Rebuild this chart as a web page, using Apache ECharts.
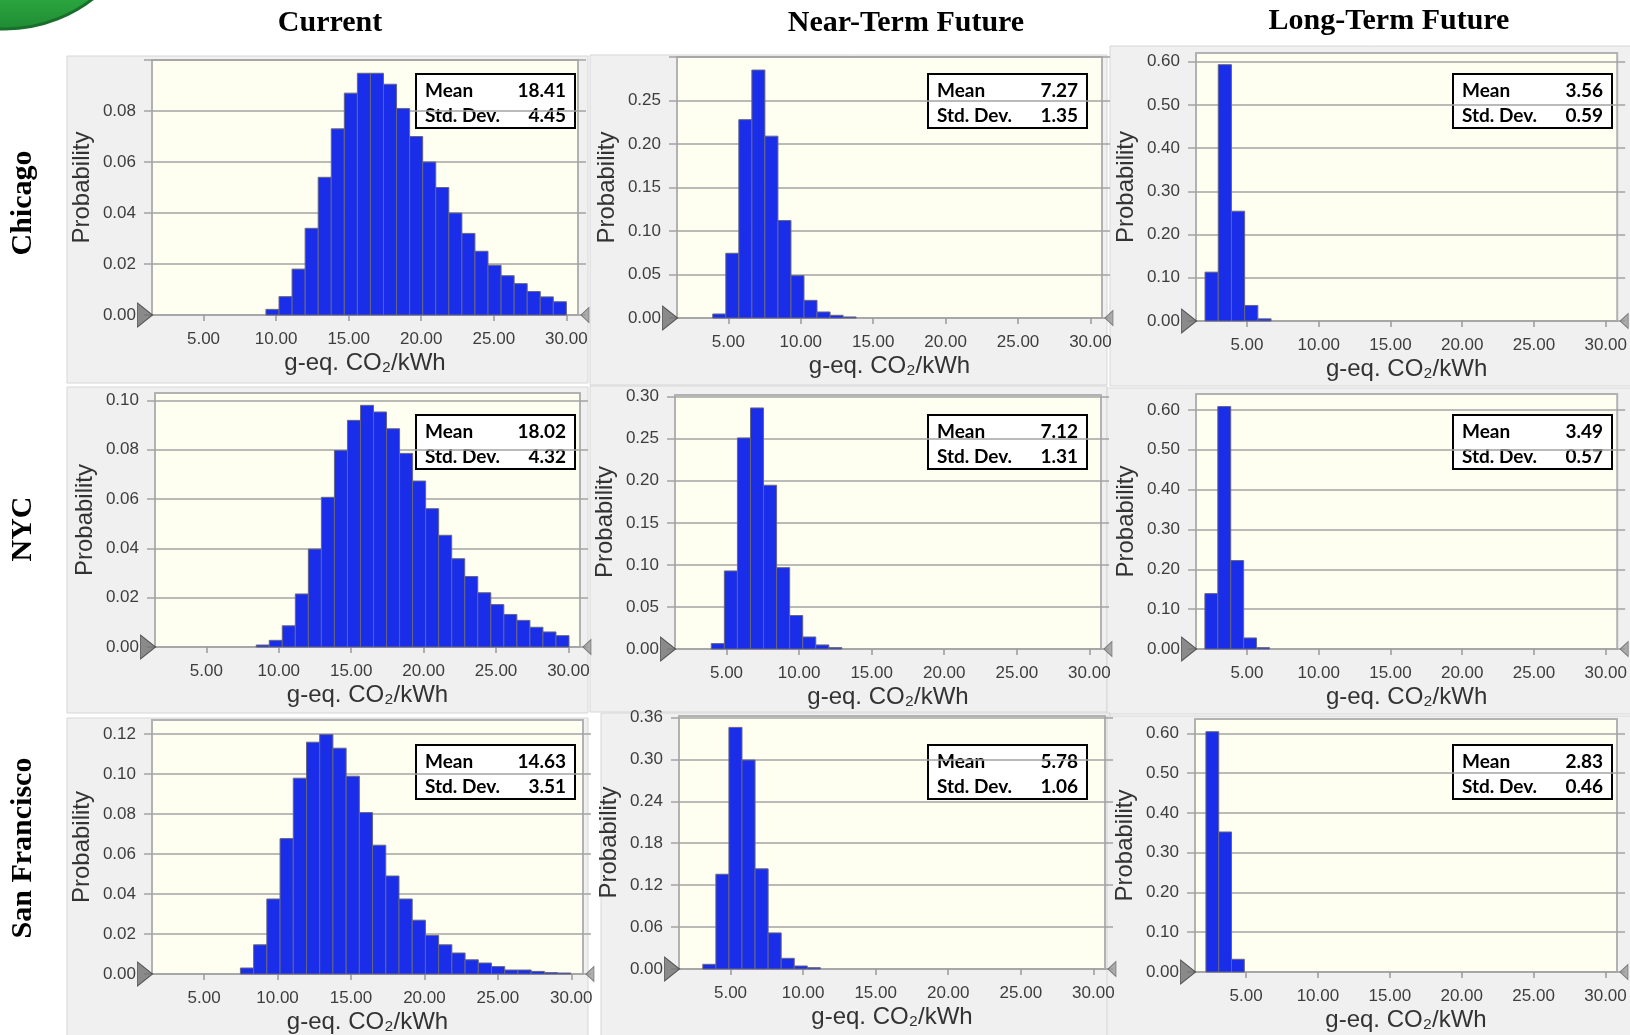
<!DOCTYPE html>
<html>
<head>
<meta charset="utf-8">
<script src="https://cdn.jsdelivr.net/npm/echarts@6/dist/echarts.min.js"></script>
<style>
  html, body { margin: 0; background: #fff; }
  #chart { width: 1630px; height: 1035px; }
</style>
</head>
<body>
<div id="chart"></div>
<script>
// rows / columns
const cities = ['Chicago', 'NYC', 'San Francisco']
const scenarios = ['Current', 'Near-Term Future', 'Long-Term Future']

// x axis (g-eq. CO2/kWh)
const xTicks = [5, 10, 15, 20, 25, 30]
const xMin = 1.45
const xMax = 30.8

// histogram probabilities, one array per panel
const chicagoCurrent = [0.0022, 0.0072, 0.018, 0.034, 0.054, 0.073, 0.087, 0.0948, 0.0948, 0.0905, 0.081, 0.070,
  0.060, 0.050, 0.040, 0.032, 0.025, 0.0195, 0.0154, 0.0123, 0.0092, 0.0071, 0.0052]
const chicagoNear = [0.0046, 0.0744, 0.228, 0.285, 0.209, 0.112, 0.0487, 0.0203, 0.0069, 0.0031, 0.0012]
const chicagoLong = [0.113, 0.593, 0.254, 0.036, 0.005]
const nycCurrent = [0.0008, 0.0027, 0.0086, 0.0215, 0.0397, 0.0607, 0.0797, 0.0919, 0.098, 0.0953, 0.0885, 0.0785,
  0.0673, 0.0561, 0.0453, 0.0358, 0.0286, 0.022, 0.0172, 0.0132, 0.0108, 0.008, 0.0061, 0.0046]
const nycNear = [0.0064, 0.0928, 0.251, 0.2866, 0.1947, 0.0967, 0.0398, 0.0143, 0.0048, 0.0016]
const nycLong = [0.139, 0.6085, 0.222, 0.0277, 0.0034]
const sfCurrent = [0.003, 0.0146, 0.0375, 0.0677, 0.0979, 0.1159, 0.1197, 0.1129, 0.0989, 0.0807, 0.0644, 0.049,
  0.0375, 0.0269, 0.0193, 0.0146, 0.0105, 0.0071, 0.0055, 0.0037, 0.002, 0.002, 0.0013, 0.0007, 0.0005]
const sfNear = [0.0067, 0.1356, 0.3457, 0.299, 0.1433, 0.0516, 0.0153, 0.0043, 0.0019]
const sfLong = [0.604, 0.352, 0.032]

const probs = [chicagoCurrent, chicagoNear, chicagoLong, nycCurrent, nycNear, nycLong, sfCurrent, sfNear, sfLong]
const binStarts = [9.30, 3.92, 2.08, 8.44, 3.95, 2.07, 7.47, 3.09, 2.21]
const binWidths = [0.9, 0.9, 0.92, 0.9, 0.9, 0.9, 0.9, 0.9, 0.89]

const means = [18.41, 7.27, 3.56, 18.02, 7.12, 3.49, 14.63, 5.78, 2.83]
const stdDevs = [4.45, 1.35, 0.59, 4.32, 1.31, 0.57, 3.51, 1.06, 0.46]

// y axes
const yMaxes = [0.10, 0.30, 0.62, 0.103, 0.302, 0.64, 0.127, 0.362, 0.636]
const yIntervals = [0.02, 0.05, 0.1, 0.02, 0.05, 0.1, 0.02, 0.06, 0.1]
const yTicks = [
  [0, 0.02, 0.04, 0.06, 0.08, 0.10],
  [0, 0.05, 0.10, 0.15, 0.20, 0.25, 0.30],
  [0, 0.1, 0.2, 0.3, 0.4, 0.5, 0.6],
  [0, 0.02, 0.04, 0.06, 0.08, 0.10],
  [0, 0.05, 0.10, 0.15, 0.20, 0.25, 0.30],
  [0, 0.1, 0.2, 0.3, 0.4, 0.5, 0.6],
  [0, 0.02, 0.04, 0.06, 0.08, 0.10, 0.12],
  [0, 0.06, 0.12, 0.18, 0.24, 0.30, 0.36],
  [0, 0.1, 0.2, 0.3, 0.4, 0.5, 0.6]
]
const yLabels = [
  [0, 0.02, 0.04, 0.06, 0.08],
  [0, 0.05, 0.10, 0.15, 0.20, 0.25],
  [0, 0.1, 0.2, 0.3, 0.4, 0.5, 0.6],
  [0, 0.02, 0.04, 0.06, 0.08, 0.10],
  [0, 0.05, 0.10, 0.15, 0.20, 0.25, 0.30],
  [0, 0.1, 0.2, 0.3, 0.4, 0.5, 0.6],
  [0, 0.02, 0.04, 0.06, 0.08, 0.10, 0.12],
  [0, 0.06, 0.12, 0.18, 0.24, 0.30, 0.36],
  [0, 0.1, 0.2, 0.3, 0.4, 0.5, 0.6]
]

// layout: plot areas and grey panels [left, top, width, height]
const plotRects = [
  [152, 60, 426, 255], [677, 57, 425, 261], [1196, 53, 424, 268],
  [155, 393, 425, 254], [675, 395, 426, 254], [1196, 394, 424, 255],
  [152, 720, 431, 254], [679, 716, 426, 253], [1195, 719, 422, 253]
]
const panelRects = [
  [67, 56, 521, 327], [590, 55, 517, 330], [1110, 46, 525, 340],
  [67, 387, 521, 326], [590, 386, 517, 326], [1107, 388, 528, 326],
  [67, 718, 521, 320], [601, 713, 509, 325], [1107, 716, 528, 322]
]
const boxX = [416, 928, 1453]
const boxY = [74, 415, 745]

const axisFont = 'Liberation Sans, Arial, sans-serif'
const labelColor = '#3d3d3d'
const gridColor = '#a3a3a3'

function renderBin(params, api) {
  const top = api.coord([api.value(0), api.value(2)])
  const bottom = api.coord([api.value(1), 0])
  return {
    type: 'rect',
    shape: { x: top[0], y: top[1], width: bottom[0] - top[0], height: bottom[1] - top[1] },
    style: { fill: '#1a2eea', stroke: '#666680', lineWidth: 1 }
  }
}

const option = {
  animation: false,
  backgroundColor: '#fff',
  grid: [],
  xAxis: [],
  yAxis: [],
  series: [],
  graphic: []
}

// green decoration in the corner
option.graphic.push({
  type: 'circle', z: 50,
  shape: { cx: 5, cy: -114, r: 143 },
  style: {
    fill: new echarts.graphic.LinearGradient(0, 0, 0, 1, [
      { offset: 0, color: '#5fd86a' }, { offset: 0.85, color: '#2fb043' }, { offset: 1, color: '#1f8a33' }
    ]),
    stroke: '#1a6e2b', lineWidth: 3
  }
})

panelRects.forEach(p => {
  option.graphic.push({
    type: 'rect', z: -100,
    shape: { x: p[0], y: p[1], width: p[2], height: p[3] },
    style: { fill: '#f0f0f0', stroke: '#d6d6d6', lineWidth: 1 }
  })
})

const headerX = [330, 906, 1389]
const headerY = [23, 23, 21]
scenarios.forEach((s, c) => {
  option.graphic.push({
    type: 'text', z: 50, x: headerX[c], y: headerY[c],
    style: {
      text: s, fontFamily: 'Liberation Serif, Times New Roman, serif', fontWeight: 'bold',
      fontSize: 30, fill: '#000', textAlign: 'center', textVerticalAlign: 'middle'
    }
  })
})

const rowLabelY = [203, 529, 848]
cities.forEach((city, r) => {
  option.graphic.push({
    type: 'text', z: 50, x: 23, y: rowLabelY[r], rotation: Math.PI / 2,
    style: {
      text: city, fontFamily: 'Liberation Serif, Times New Roman, serif', fontWeight: 'bold',
      fontSize: 30, fill: '#000', textAlign: 'center', textVerticalAlign: 'middle'
    }
  })
})

for (let i = 0; i < 9; i++) {
  const r = Math.floor(i / 3)
  const c = i % 3
  const rect = plotRects[i]

  option.grid.push({
    left: rect[0], top: rect[1], width: rect[2], height: rect[3],
    show: true, backgroundColor: '#fffff1', borderColor: '#b2b2b2', borderWidth: 2
  })

  option.xAxis.push({
    gridIndex: i, type: 'value', min: xMin, max: xMax,
    name: 'g-eq. CO₂/kWh', nameLocation: 'middle', nameGap: 36,
    nameTextStyle: { fontSize: 24, color: '#333', fontFamily: axisFont },
    axisLine: { show: false },
    axisTick: { show: true, length: 6, customValues: xTicks, lineStyle: { color: '#999', width: 1.5 } },
    axisLabel: {
      customValues: xTicks, margin: 16, fontSize: 17, color: labelColor, fontFamily: axisFont,
      formatter: v => v.toFixed(2)
    },
    splitLine: { show: false }
  })

  option.yAxis.push({
    gridIndex: i, type: 'value', min: 0, max: yMaxes[i], interval: yIntervals[i],
    name: 'Probability', nameLocation: 'middle', nameGap: 58,
    nameTextStyle: { fontSize: 24, color: '#333', fontFamily: axisFont },
    axisLine: { show: false },
    axisTick: { show: true, length: 8, customValues: yTicks[i], lineStyle: { color: gridColor, width: 1.5 } },
    axisLabel: {
      customValues: yLabels[i], margin: 16, fontSize: 17, color: labelColor, fontFamily: axisFont,
      formatter: v => v.toFixed(2)
    },
    splitLine: { show: true, lineStyle: { color: gridColor, width: 1.5 } }
  })
  option.yAxis.push({
    gridIndex: i, type: 'value', position: 'right', min: 0, max: yMaxes[i], interval: yIntervals[i],
    axisLine: { show: false },
    axisTick: { show: true, length: 8, customValues: yTicks[i], lineStyle: { color: gridColor, width: 1.5 } },
    axisLabel: { show: false },
    splitLine: { show: false }
  })

  const bins = probs[i].map((p, k) => [
    binStarts[i] + k * binWidths[i],
    binStarts[i] + (k + 1) * binWidths[i],
    p
  ])
  option.series.push({
    type: 'custom', xAxisIndex: i, yAxisIndex: 2 * i,
    renderItem: renderBin,
    encode: { x: [0, 1], y: 2 },
    data: bins
  })

  // slider markers at the ends of the x axis
  option.series.push({
    type: 'scatter', xAxisIndex: i, yAxisIndex: 2 * i, clip: false, silent: true,
    symbol: 'path://M0,0L10,8L0,16Z', symbolSize: [15, 24], symbolOffset: [-7, 0],
    itemStyle: { color: '#707070', borderColor: '#3a3a3a', borderWidth: 1 },
    data: [[xMin, 0]]
  })
  option.series.push({
    type: 'scatter', xAxisIndex: i, yAxisIndex: 2 * i, clip: false, silent: true,
    symbol: 'path://M10,0L0,8L10,16Z', symbolSize: [8, 15], symbolOffset: [7, 0],
    itemStyle: { color: '#9a9a9a', borderColor: '#666', borderWidth: 1 },
    data: [[xMax, 0]]
  })

  // stats box
  const statFont = { fontFamily: 'Lato, Open Sans, sans-serif', fontWeight: 'bold', fontSize: 19, fill: '#000', textVerticalAlign: 'middle' }
  option.graphic.push({
    type: 'group', x: boxX[c], y: boxY[r], z: 100,
    children: [
      { type: 'rect', shape: { x: 0, y: 0, width: 159, height: 54 }, style: { fill: '#fff', stroke: '#000', lineWidth: 2 } },
      { type: 'text', x: 9, y: 17, style: Object.assign({ text: 'Mean', textAlign: 'left' }, statFont) },
      { type: 'text', x: 150, y: 17, style: Object.assign({ text: means[i].toFixed(2), textAlign: 'right' }, statFont) },
      { type: 'text', x: 9, y: 42, style: Object.assign({ text: 'Std. Dev.', textAlign: 'left' }, statFont) },
      { type: 'text', x: 150, y: 42, style: Object.assign({ text: stdDevs[i].toFixed(2), textAlign: 'right' }, statFont) }
    ]
  })
}

const chart = echarts.init(document.getElementById('chart'))
chart.setOption(option)
</script>
</body>
</html>
